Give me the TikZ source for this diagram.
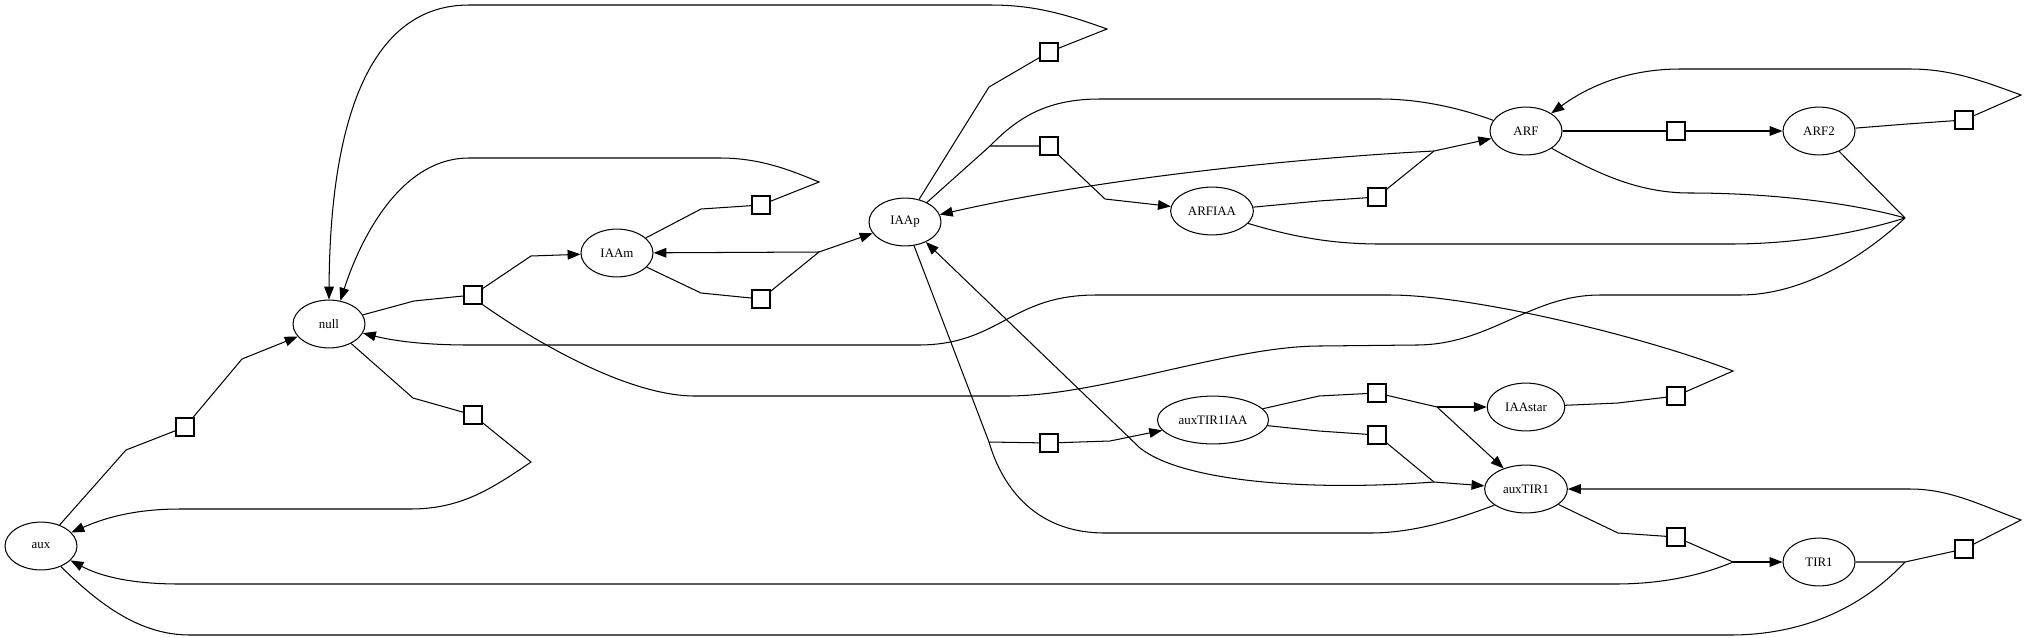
\documentclass[tikz,border=0pt]{standalone}
\usepackage{fontspec}
\setmainfont{Liberation Serif}
\usetikzlibrary{shapes.geometric,arrows.meta}
\begin{document}
\begin{tikzpicture}[x=0.7736pt,y=-0.7736pt,
  species/.style={draw,ellipse,line width=0.8pt,inner sep=0pt,minimum height=37pt,minimum width=55.7pt,font=\fontsize{10}{12}\selectfont},
  rxn/.style={draw,rectangle,line width=1pt,inner sep=0pt,minimum size=14pt,fill=white},
  conn/.style={line width=0.8pt},
  arr/.style={conn,-{Triangle[length=10pt,width=7.5pt]}}]
\useasboundingbox (0,0) rectangle (2027,637);
% species
\node[species] (null) at (329,324) {null};
\node[species] (aux) at (41,546) {aux};
\node[species] (IAAm) at (617,253) {IAAm};
\node[species] (IAAp) at (905,222) {IAAp};
\node[species,minimum width=64pt] (ARFIAA) at (1212,211) {ARFIAA};
\node[species,minimum width=86pt] (auxTIR1IAA) at (1213,420) {auxTIR1IAA};
\node[species] (ARF) at (1526,131) {ARF};
\node[species] (ARF2) at (1819,131) {ARF2};
\node[species,minimum width=60pt] (IAAstar) at (1526,407) {IAAstar};
\node[species,minimum width=64pt] (auxTIR1) at (1526,489) {auxTIR1};
\node[species] (TIR1) at (1819,562) {TIR1};
% reactions
\node[rxn] (r1) at (473,295) {};
\node[rxn] (r2) at (185,427) {};
\node[rxn] (r3) at (473,415) {};
\node[rxn] (r4) at (761,205) {};
\node[rxn] (r5) at (761,299) {};
\node[rxn] (r6) at (1049,52) {};
\node[rxn] (r7) at (1049,146) {};
\node[rxn] (r8) at (1049,443) {};
\node[rxn] (r9) at (1377,197) {};
\node[rxn] (r10) at (1377,393) {};
\node[rxn] (r11) at (1377,435) {};
\node[rxn] (r12) at (1676,131) {};
\node[rxn] (r13) at (1964,120) {};
\node[rxn] (r14) at (1676,396) {};
\node[rxn] (r15) at (1676,537) {};
\node[rxn] (r16) at (1964,549) {};
% join points
\coordinate (j1) at (414,301);
\coordinate (j2) at (531,256);
\coordinate (j3) at (126,450);
\coordinate (j4) at (242,359);
\coordinate (j5) at (413,398);
\coordinate (j6) at (531,462);
\coordinate (j7) at (701,209);
\coordinate (j8) at (819,182);
\coordinate (j9) at (701,293);
\coordinate (j10) at (819,252);
\coordinate (j11) at (989,87);
\coordinate (j12) at (1107,29);
\coordinate (j13) at (990,146);
\coordinate (j14) at (1105,199);
\coordinate (j15) at (989,442);
\coordinate (j16) at (1110,441);
\coordinate (j17) at (1319,201);
\coordinate (j18) at (1434,151);
\coordinate (j19) at (1319,396);
\coordinate (j20) at (1437,407);
\coordinate (j21) at (1319,431);
\coordinate (j22) at (1434,482);
\coordinate (j23) at (1618,131);
\coordinate (j24) at (1736,131);
\coordinate (j25) at (1907,124);
\coordinate (j26) at (2021,95);
\coordinate (j27) at (1618,403);
\coordinate (j28) at (1733,371);
\coordinate (j29) at (1618,533);
\coordinate (j30) at (1733,562);
\coordinate (j31) at (1905,562);
\coordinate (j32) at (2021,520);
\coordinate (j33) at (1905,218);
% null -> IAAm
\draw[conn] (null) -- (j1) -- (r1);
\draw[arr] (r1) -- (j2) -- (IAAm);
% aux -> null
\draw[conn] (aux) -- (j3) -- (r2);
\draw[arr] (r2) -- (j4) -- (null);
% null -> aux
\draw[conn] (null) -- (j5) -- (r3);
\draw[arr] (r3) -- (j6) .. controls (490,490) and (460,509) .. (410,509) -- (180,509) .. controls (130,509) and (100,520) .. (aux.24);
% IAAm degradation
\draw[conn] (IAAm) -- (j7) -- (r4);
\draw[arr] (r4) -- (j8) .. controls (790,170) and (760,158) .. (720,158) -- (469,158) .. controls (400,158) and (360,240) .. (null.64);
% IAAm -> IAAm + IAAp
\draw[conn] (IAAm) -- (j9) -- (r5);
\draw[conn] (r5) -- (j10);
\draw[arr] (j10) -- (IAAp);
\draw[arr] (j10) -- (IAAm);
% IAAp degradation
\draw[conn] (IAAp) -- (j11) -- (r6);
\draw[arr] (r6) -- (j12) .. controls (1060,12) and (1030,5) .. (990,5) -- (469,5) .. controls (370,5) and (330,120) .. (null.north);
% ARF + IAAp -> ARFIAA
\draw[conn] (IAAp) -- (j13) -- (r7);
\draw[conn] (ARF.162) .. controls (1460,108) and (1420,99) .. (1380,99) -- (1100,99) .. controls (1050,99) and (1020,115) .. (j13);
\draw[arr] (r7) -- (j14) -- (ARFIAA);
% ARFIAA -> ARF + IAAp
\draw[conn] (ARFIAA) -- (j17) -- (r9);
\draw[conn] (r9) -- (j18);
\draw[arr] (j18) -- (ARF);
\draw[arr] (j18) .. controls (1300,158) and (1100,178) .. (IAAp.12);
% ARF -> ARF2
\draw[conn] (ARF) -- (j23) -- (r12);
\draw[arr] (r12) -- (j24) -- (ARF2);
% ARF2 -> ARF
\draw[conn] (ARF2) -- (j25) -- (r13);
\draw[arr] (r13) -- (j26) .. controls (1980,80) and (1950,69) .. (1910,69) -- (1680,69) .. controls (1630,69) and (1590,85) .. (ARF.35);
% modifiers of IAAm production
\draw[conn] (ARF.-34) .. controls (1600,175) and (1640,193) .. (1690,193) .. controls (1780,193) and (1860,205) .. (j33);
\draw[conn] (ARF2) -- (j33);
\draw[conn] (ARFIAA.-19) .. controls (1290,236) and (1330,244) .. (1380,244) -- (1730,244) .. controls (1800,244) and (1860,232) .. (j33);
\draw[conn] (j33) .. controls (1860,260) and (1800,295) .. (1740,295) -- (1600,295) .. controls (1530,295) and (1490,345) .. (1416,345) -- (1320,346) .. controls (1230,346) and (1100,396) .. (1007,396) -- (695,396) .. controls (630,396) and (540,345) .. (r1.south east);
% IAAstar degradation
\draw[conn] (IAAstar) -- (j27) -- (r14);
\draw[arr] (r14) -- (j28) .. controls (1640,335) and (1470,295) .. (1390,295) -- (1096,295) .. controls (1010,295) and (1000,345) .. (918,345) -- (469,345) .. controls (420,345) and (390,340) .. (null.-15);
% IAAp + auxTIR1 -> auxTIR1IAA
\draw[conn] (IAAp) -- (j15) -- (r8);
\draw[conn] (auxTIR1.-153) .. controls (1450,522) and (1410,533) .. (1370,533) -- (1105,533) .. controls (1030,533) and (1000,480) .. (j15);
\draw[arr] (r8) -- (j16) -- (auxTIR1IAA);
% auxTIR1IAA -> IAAstar + auxTIR1
\draw[conn] (auxTIR1IAA) -- (j19) -- (r10);
\draw[conn] (r10) -- (j20);
\draw[arr] (j20) -- (IAAstar);
\draw[arr] (j20) -- (auxTIR1);
% auxTIR1IAA -> IAAp + auxTIR1
\draw[conn] (auxTIR1IAA) -- (j21) -- (r11);
\draw[conn] (r11) -- (j22);
\draw[arr] (j22) -- (auxTIR1);
\draw[arr] (j22) .. controls (1300,492) and (1180,480) .. (1140,448) -- (IAAp);
% auxTIR1 -> aux + TIR1
\draw[conn] (auxTIR1) -- (j29) -- (r15);
\draw[conn] (r15) -- (j30);
\draw[arr] (j30) -- (TIR1);
\draw[arr] (j30) .. controls (1700,576) and (1660,584) .. (1615,584) -- (180,584) .. controls (130,584) and (100,576) .. (aux.-26);
% aux + TIR1 -> auxTIR1
\draw[conn] (TIR1) -- (j31) -- (r16);
\draw[conn] (aux.-46) .. controls (100,605) and (140,635) .. (190,635) -- (1730,635) .. controls (1800,635) and (1860,610) .. (j31);
\draw[arr] (r16) -- (j32) .. controls (1980,505) and (1950,489) .. (1910,489) -- (auxTIR1);
\end{tikzpicture}
\end{document}
